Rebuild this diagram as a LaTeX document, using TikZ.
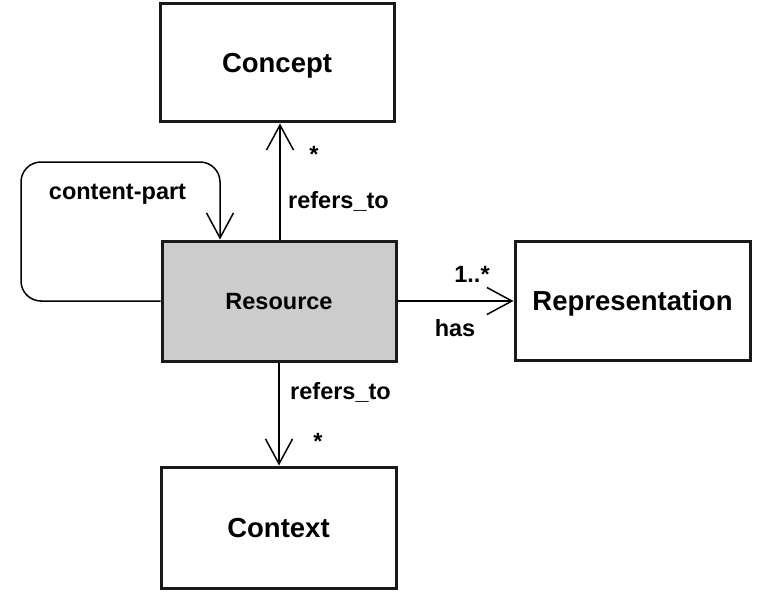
\documentclass[tikz,border=0pt]{standalone}
\usepackage{fontspec}
\setmainfont{Liberation Sans}
\usetikzlibrary{arrows.meta}
\begin{document}
\begin{tikzpicture}[x=1pt,y=-1pt,
  box/.style={draw=black!90, line width=3pt, inner sep=0pt, text depth=0pt,
    font=\fontsize{27.5}{33}\selectfont\bfseries},
  conn/.style={line width=1.5pt, -{Straight Barb[length=25pt,width=27pt,line width=1.5pt]}},
  lbl/.style={inner sep=0pt, anchor=base, font=\fontsize{23.5}{28}\selectfont\bfseries}]
\useasboundingbox (0,0) rectangle (773,615);
\node[box, minimum width=234pt, minimum height=118pt] (concept) at (277,63) {Concept};
\node[box, fill=black!20, minimum width=234pt, minimum height=120pt,
  font=\fontsize{23.5}{28}\selectfont\bfseries] (resource) at (279,301) {Resource};
\node[box, minimum width=235pt, minimum height=119pt] (repr) at (632.5,300.5) {Representation};
\node[box, minimum width=235pt, minimum height=121pt] (context) at (278.5,527.5) {Context};

\draw[conn] ([xshift=1pt]resource.north) -- ([xshift=1pt]resource.north |- concept.south);
\draw[conn] (resource.east) -- (resource.east -| repr.west);
\draw[conn] (resource.south) -- (resource.south |- context.north);
\coordinate (loopa) at (21,162);
\draw[conn, rounded corners=20pt] (resource.west) -| (loopa) -| ([xshift=-59pt]resource.north);

\node[lbl] (cp) at (117.5,199) {content-part};
\node[lbl] (rt1) at (338.5,208) {refers\_to};
\node[lbl] (st1) at (314,162) {*};
\node[lbl] (mul) at (472,282) {1..*};
\node[lbl] (has) at (455,336) {has};
\node[lbl] (rt2) at (340.5,399) {refers\_to};
\node[lbl] (st2) at (318,449) {*};
\end{tikzpicture}
\end{document}
